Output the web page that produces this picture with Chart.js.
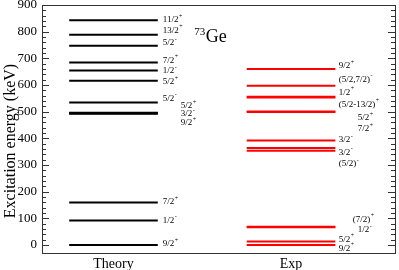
<!DOCTYPE html>
<html>
<head>
<meta charset="utf-8">
<script src="https://cdn.jsdelivr.net/npm/chart.js@4.4.1/dist/chart.umd.min.js"></script>
<style>
    html, body { margin: 0; padding: 0; background: #fff; }
    #wrap { width: 399px; height: 270px; }
</style>
</head>
<body>
<div id="wrap"><canvas id="niveles"></canvas></div>
<script>
"use strict";

// --- data (keV) ---
const categories = ["Theory", "Exp"];
const yTicks = [0, 100, 200, 300, 400, 500, 600, 700, 800, 900];
const yTitle = "Excitation energy (keV)";

const theoryEnergy = [0, 92, 159, 492, 494, 496, 534, 616, 654, 684, 747, 788, 843];
const theorySpin   = ["9/2", "1/2", "7/2", "9/2", "3/2", "5/2", "5/2", "5/2", "1/2", "7/2", "5/2", "13/2", "11/2"];
const theoryParity = ["+", "-", "+", "+", "-", "+", "-", "+", "-", "+", "-", "+", "+"];

const expEnergy = [0, 13.3, 66.7, 68.8, 353.6, 364, 392, 499, 501, 553, 556, 597, 660];
const expSpin   = ["9/2", "5/2", "1/2", "(7/2)", "(5/2)", "3/2", "3/2", "7/2", "5/2", "(5/2-13/2)", "1/2", "(5/2,7/2)", "9/2"];
const expParity = ["+", "+", "-", "+", "-", "-", "-", "+", "+", "+", "+", "-", "+"];

// --- label layout (where each spin label sits, keV, and its indent in px) ---
const theoryLabelAt = [6, 94, 164, 461, 494, 525, 552, 614, 656, 695, 761, 808, 847];
const theoryIndent  = [0, 0, 0, 18, 18, 18, 0, 0, 0, 0, 0, 0, 0];
const expLabelAt = [-11, 24, 59, 99, 306, 350, 396, 437, 480, 530, 574, 624, 675];
const expIndent  = [0, 0, 19, 14, 0, 0, 0, 19, 19, 0, 0, 0, 0];

const SERIF = "'Liberation Serif', 'DejaVu Serif', serif";
const THEORY_X = [7.7, 32.8];
const EXP_X = [58, 83.1];

function niveles(energias, xr, color) {
    return energias.map(e => ({
        data: [{ x: xr[0], y: e }, { x: xr[1], y: e }],
        showLine: true,
        borderColor: color,
        borderWidth: 2,
        pointRadius: 0,
        pointHoverRadius: 0
    }));
}

const marco = {
    id: "marco",
    afterDraw(chart) {
        const { ctx, chartArea: a, scales: { y } } = chart;
        ctx.save();
        ctx.strokeStyle = "#333";
        ctx.lineWidth = 1;
        ctx.strokeRect(a.left + 0.5, a.top + 0.5, a.right - a.left, a.bottom - a.top);
        ctx.beginPath();
        for (let v = 0; v <= 900; v += 20) {
            const py = Math.round(y.getPixelForValue(v)) + 0.5;
            const len = (v % 100 === 0) ? 7 : 4;
            ctx.moveTo(a.left, py);  ctx.lineTo(a.left + len, py);
            ctx.moveTo(a.right, py); ctx.lineTo(a.right - len, py);
        }
        ctx.stroke();

        // axis title, a bit below the centre like the original
        ctx.translate(11, 141);
        ctx.rotate(-Math.PI / 2);
        ctx.fillStyle = "#000";
        ctx.font = "16px " + SERIF;
        ctx.textAlign = "center";
        ctx.textBaseline = "middle";
        ctx.fillText(yTitle, 0, 0);
        ctx.restore();
    }
};

function etiqueta(ctx, x, y, texto, sup) {
    ctx.font = "9px " + SERIF;
    ctx.fillText(texto, x, y + 3);
    const w = ctx.measureText(texto).width;
    ctx.font = "6px " + SERIF;
    ctx.fillText(sup, x + w + 0.5, y - 1.5);
}

const etiquetas = {
    id: "etiquetas",
    afterDatasetsDraw(chart) {
        const { ctx, scales: { x, y } } = chart;
        ctx.save();
        ctx.fillStyle = "#000";
        ctx.textAlign = "left";
        ctx.textBaseline = "alphabetic";

        const tx = x.getPixelForValue(THEORY_X[1]) + 5;
        theorySpin.forEach((s, i) => {
            etiqueta(ctx, tx + theoryIndent[i], y.getPixelForValue(theoryLabelAt[i]), s, theoryParity[i]);
        });
        const ex = x.getPixelForValue(EXP_X[1]) + 3.5;
        expSpin.forEach((s, i) => {
            etiqueta(ctx, ex + expIndent[i], y.getPixelForValue(expLabelAt[i]), s, expParity[i]);
        });

        // nucleus name
        const nx = x.getPixelForValue(43.1);
        const ny = y.getPixelForValue(762);
        ctx.font = "11px " + SERIF;
        ctx.fillText("73", nx, ny - 7);
        const w = ctx.measureText("73").width;
        ctx.font = "18px " + SERIF;
        ctx.fillText("Ge", nx + w + 0.5, ny);
        ctx.restore();
    }
};

new Chart(document.getElementById("niveles"), {
    type: "scatter",
    data: {
        datasets: [
            ...niveles(theoryEnergy, THEORY_X, "#000000"),
            ...niveles(expEnergy, EXP_X, "#ff0000")
        ]
    },
    options: {
        responsive: true,
        maintainAspectRatio: false,
        animation: false,
        devicePixelRatio: 1,
        layout: { padding: { top: 5, right: 4, left: 0, bottom: 0 } },
        plugins: {
            legend: { display: false },
            tooltip: { enabled: false }
        },
        scales: {
            x: {
                type: "linear",
                min: 0,
                max: 100,
                grid: { display: false, drawTicks: false },
                border: { display: false },
                afterBuildTicks: s => { s.ticks = [{ value: 20.25 }, { value: 70.55 }]; },
                afterFit: s => { s.height = 17; s.paddingLeft = 0; s.paddingRight = 0; },
                ticks: {
                    color: "#000",
                    padding: 3,
                    maxRotation: 0,
                    font: { family: SERIF, size: 14 },
                    callback: (v, i) => categories[i]
                }
            },
            y: {
                type: "linear",
                min: -30,
                max: 900,
                grid: { display: false, drawTicks: false },
                border: { display: false },
                afterBuildTicks: s => { s.ticks = yTicks.map(v => ({ value: v })); },
                afterFit: s => { s.width = 42; s.paddingTop = 0; s.paddingBottom = 0; },
                ticks: {
                    color: "#000",
                    padding: 5,
                    font: { family: SERIF, size: 13 }
                }
            }
        }
    },
    plugins: [marco, etiquetas]
});
</script>
</body>
</html>
